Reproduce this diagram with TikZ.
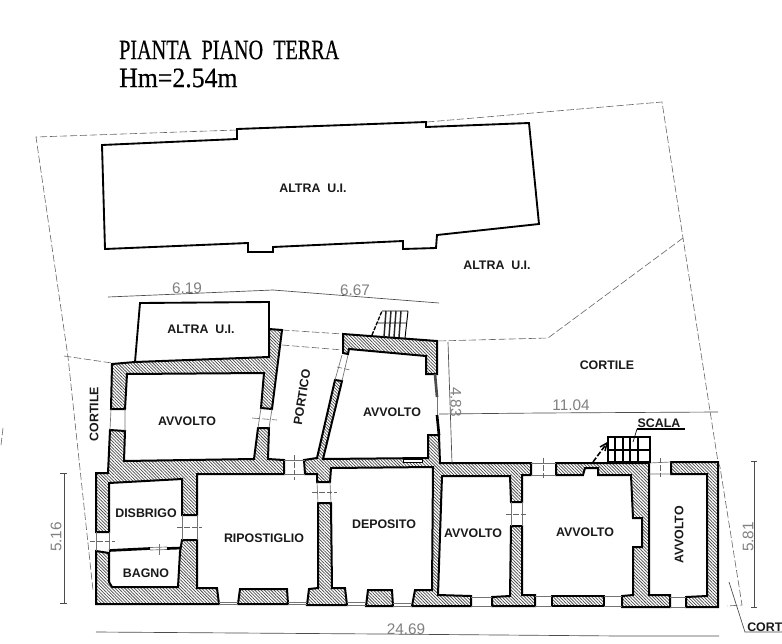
\documentclass[tikz,border=0pt]{standalone}
\usepackage{fontspec}
\setmainfont{Liberation Sans}
\newfontfamily\titlefont[FakeBold=0.6]{Liberation Serif}
\usetikzlibrary{patterns.meta}
\tikzset{
  x=0.75pt,y=-0.75pt,
  wall/.style={draw=black,line width=1.5pt,line join=miter,pattern={Lines[angle=-45,distance=1.7pt,line width=.55pt]},pattern color=black!70},
  bldg/.style={draw=black,line width=1.4pt,line join=miter},
  hair/.style={draw=black!55,line width=.5pt},
  bound/.style={draw=black!60,line width=.45pt,dash pattern=on 5.5pt off 2pt},
  dimline/.style={draw=black!70,line width=.5pt},
  lbl/.style={font=\bfseries\fontsize{9.3}{10}\selectfont,inner sep=0pt,text=black!90},
  dimtxt/.style={font=\fontsize{11.5}{12}\selectfont,inner sep=0pt,text=black!50},
  ttl/.style={font=\titlefont\fontsize{21}{22}\selectfont,inner sep=0pt,anchor=west}
}
\begin{document}
\begin{tikzpicture}
\useasboundingbox (0,0) rectangle (782,643);
\clip (0,0) rectangle (782,643);
\fill[white] (0,0) rectangle (782,643);

% title
\node[ttl,xscale=.72] (t1) at (119,50) {PIANTA\ \ PIANO\ \ TERRA};
\node[ttl,xscale=.92] (t2) at (119,78) {Hm=2.54m};

% boundaries
\draw[bound] (237,130) -- (36,137) -- (68,357) -- (93,590);
\draw[bound] (427,122) -- (662,102) -- (683,238) -- (718,462) -- (720,467) -- (742,605) -- (727,606);
\draw[bound] (683,238) -- (548,338) -- (437,341);
\draw[bound] (64,356) -- (112,363);
\draw[bound] (282,330) -- (343,334);
\draw[bound] (282,345) -- (343,350);
\draw[bound] (252,418) -- (277,420);
\draw[bound] (3,428) -- (1,445);

% upper building
\draw[bldg] (102,145) -- (237,139) -- (237,129) -- (426,122) -- (426,127) -- (529,123) -- (539,224) -- (437,235) -- (436,248) -- (403,249) -- (403,241) -- (273,247) -- (273,252) -- (248,252) -- (248,243) -- (105,249) -- cycle;
% altra u.i. small
\draw[bldg] (135,362) -- (140,303) -- (269,302) -- (269,357);

% walls
\draw[wall] (112,364) -- (135,362) -- (269,357) -- (269,329) -- (282,330) -- (272,409) -- (261,408) -- (264,373) -- (127,374) -- (125,409) -- (111,409) -- cycle;
\draw[wall] (110,430) -- (125,431) -- (124,461) -- (254,459) -- (258,428) -- (269,428) -- (268,459) -- (284,460) -- (284,474) -- (197,474) -- (197,515) -- (182,515) -- (182,479) -- (109,483) -- (109,532) -- (96,532) -- (96,473) -- (108,473) -- cycle;
\draw[wall] (96,551) -- (109,553) -- (109,582) -- (112,587) -- (178,587) -- (180,552) -- (182,540) -- (197,540) -- (197,588) -- (217,588) -- (219,604) -- (96,604) -- cycle;
\draw[wall] (240,589) -- (287,589) -- (288,604) -- (238,604) -- cycle;
\draw[wall] (318,503) -- (331,503) -- (332,588) -- (345,588) -- (347,605) -- (307,605) -- (309,589) -- (318,588) -- cycle;
\draw[wall] (368,590) -- (392,590) -- (393,606) -- (366,606) -- cycle;
\draw[wall] (304,460) -- (317,458) -- (335,380) -- (342,381) -- (323,459) -- (428,458) -- (428,435) -- (439,435) -- (440,463) -- (531,463) -- (531,475) -- (522,475) -- (522,502) -- (511,502) -- (510,476) -- (442,476) -- (438,595) -- (471,596) -- (471,606) -- (412,606) -- (415,590) -- (432,590) -- (433,467) -- (331,468) -- (330,482) -- (317,482) -- (317,474) -- (305,474) -- cycle;
\draw[wall] (343,334) -- (437,341) -- (437,374) -- (426,374) -- (426,356) -- (349,349) -- (348,354) -- (343,353) -- cycle;
\draw[wall] (511,526) -- (522,526) -- (522,595) -- (535,595) -- (535,606) -- (492,606) -- (492,597) -- (510,596) -- cycle;
\draw[wall] (552,596) -- (604,596) -- (604,606) -- (552,606) -- cycle;
\draw[wall] (556,463) -- (649,463) -- (649,595) -- (670,595) -- (670,607) -- (622,607) -- (622,596) -- (633,595) -- (633,547) -- (642,547) -- (642,518) -- (633,518) -- (631,475) -- (598,475) -- (598,468) -- (585,468) -- (583,475) -- (556,475) -- cycle;
\draw[wall] (671,462) -- (718,462) -- (718,607) -- (686,607) -- (686,597) -- (707,596) -- (707,474) -- (671,474) -- cycle;

% partition disbrigo / bagno
\draw[draw=black,line width=2pt] (109,550.5) -- (150,548.5);
\draw[draw=black,line width=2pt] (167,548.5) -- (181,548);
\draw[hair] (150,547.5) -- (167,547) (150,550) -- (167,549.5);
\draw[hair] (159,544) -- (159,555);
% narrow east wall of avvolto
\draw[draw=black!70,line width=2pt] (435,374) -- (437,397);
\draw[hair] (437,397) -- (437,415);
\draw[draw=black,line width=2pt] (437,415) -- (439,435);
% window in thin wall
\draw[draw=black,fill=white,line width=.5pt] (403,459) rectangle (422,462);

% openings
\draw[hair] (111,409) -- (110,430) (125,409) -- (125,431);
\draw[hair] (261,408) -- (258,428) (272,409) -- (269,428);
\draw[hair] (284,460) -- (305,460) (284,474) -- (305,474);
\draw[hair] (317,482) -- (318,503) (330,482) -- (331,503);
\draw[hair] (182,515) -- (182,540) (197,515) -- (197,540);
\draw[hair] (96,532) -- (96,551) (109,532) -- (109,550);
\draw[hair] (511,502) -- (511,526) (522,502) -- (522,526);
\draw[hair] (531,463) -- (556,463) (531,475) -- (556,475);
\draw[hair] (649,463) -- (671,462) (649,474) -- (671,474);
\draw[hair] (342,355) -- (335,380) (348,355) -- (342,381);
\foreach \a/\b/\c/\d in {219/602/238/602,219/604/238/604,288/602/307/602,288/604/307/604,347/602/366/602,347/605/366/605,393/603/412/603,393/606/412/606,471/597/492/597,471/606/492/606,535/596/552/596,535/606/552/606,604/596/622/596,604/606/622/606,670/597/686/597,670/607/686/607}
  \draw[hair] (\a,\b) -- (\c,\d);
% door centre marks
\foreach \a/\b/\c/\d in {294/455/294/480,312/492/337/492,177/527/202/527,90/541/115/541,506/514/527/514,543/458/543/479,660/458/660/477,337/367/350/370}
  \draw[bound,dash pattern=on 4pt off 1.5pt] (\a,\b) -- (\c,\d);

% small stair
\draw[line width=.7pt] (382,311) -- (408,311) (405,338) -- (408,311) (378,323) -- (406,323);
\foreach \x in {386,391,396,401}
  \draw[line width=1.1pt,black!85] (\x,311) -- (\x-2,337);
\draw[line width=1pt,dash pattern=on 3pt off 1pt] (372,335) -- (382,311);

% SCALA stair
\draw[line width=.8pt] (608,437) rectangle (650,462);
\draw[line width=.8pt] (608,450) -- (650,450);
\foreach \x in {615,623,630,638}
  \draw[line width=.8pt] (\x,437) -- (\x,462);
\draw[line width=1.2pt,dash pattern=on 4pt off 1.5pt] (593,462) -- (607,443);
\draw[line width=1.1pt] (600,447) -- (607,443) -- (605,451);
\node[lbl] (scala) at (659,423) {SCALA};
\draw[line width=.8pt] (637,429) -- (685,429);
\draw[line width=.5pt] (637,429) -- (633,442);

% dimension lines
\draw[dimline] (108,297) -- (273,290) -- (439,303);
\draw[dimline] (448,342) -- (452,463);
\draw[dimline] (439,414) -- (540,413) -- (718,412);
\draw[dimline] (64,473) -- (64,603);
\draw[dimline] (60,473) -- (67,473) (60,603) -- (67,603);
\draw[dimline] (754,461) -- (754,607);
\draw[dimline] (751,461) -- (757,461) (751,607) -- (757,607);
\draw[dimline] (96,632) -- (380,634) -- (620,636) -- (719,636);
\draw[line width=.5pt,black!70] (729,582) -- (745,632) -- (782,632);

\node[dimtxt] (d1) at (187,288) {6.19};
\node[dimtxt] (d2) at (355,290) {6.67};
\node[dimtxt,rotate=-90] (d3) at (456,402) {4.83};
\node[dimtxt] (d4) at (571,405) {11.04};
\node[dimtxt,rotate=90] (d5) at (56,537) {5.16};
\node[dimtxt,rotate=90] (d6) at (748,537) {5.81};
\node[dimtxt] (d7) at (406,629) {24.69};

% labels
\node[lbl] (a1) at (313,188) {ALTRA\ \ U.I.};
\node[lbl] (a2) at (497,265) {ALTRA\ \ U.I.};
\node[lbl] (a3) at (201,329) {ALTRA\ \ U.I.};
\node[lbl] (c1) at (607,365) {CORTILE};
\node[lbl,rotate=90] (c2) at (94,414) {CORTILE};
\node[lbl] (v1) at (187,421) {AVVOLTO};
\node[lbl,rotate=81] (p1) at (302,397) {PORTICO};
\node[lbl] (v2) at (392,412) {AVVOLTO};
\node[lbl] (r1) at (146,513) {DISBRIGO};
\node[lbl] (r2) at (146,573) {BAGNO};
\node[lbl] (r3) at (264,538) {RIPOSTIGLIO};
\node[lbl] (r4) at (384,524) {DEPOSITO};
\node[lbl] (v3) at (473,533) {AVVOLTO};
\node[lbl] (v4) at (585,532) {AVVOLTO};
\node[lbl,rotate=90] (v5) at (679,535) {AVVOLTO};
\node[lbl,anchor=west] (c3) at (747,627) {CORTILE};
\end{tikzpicture}
\end{document}
